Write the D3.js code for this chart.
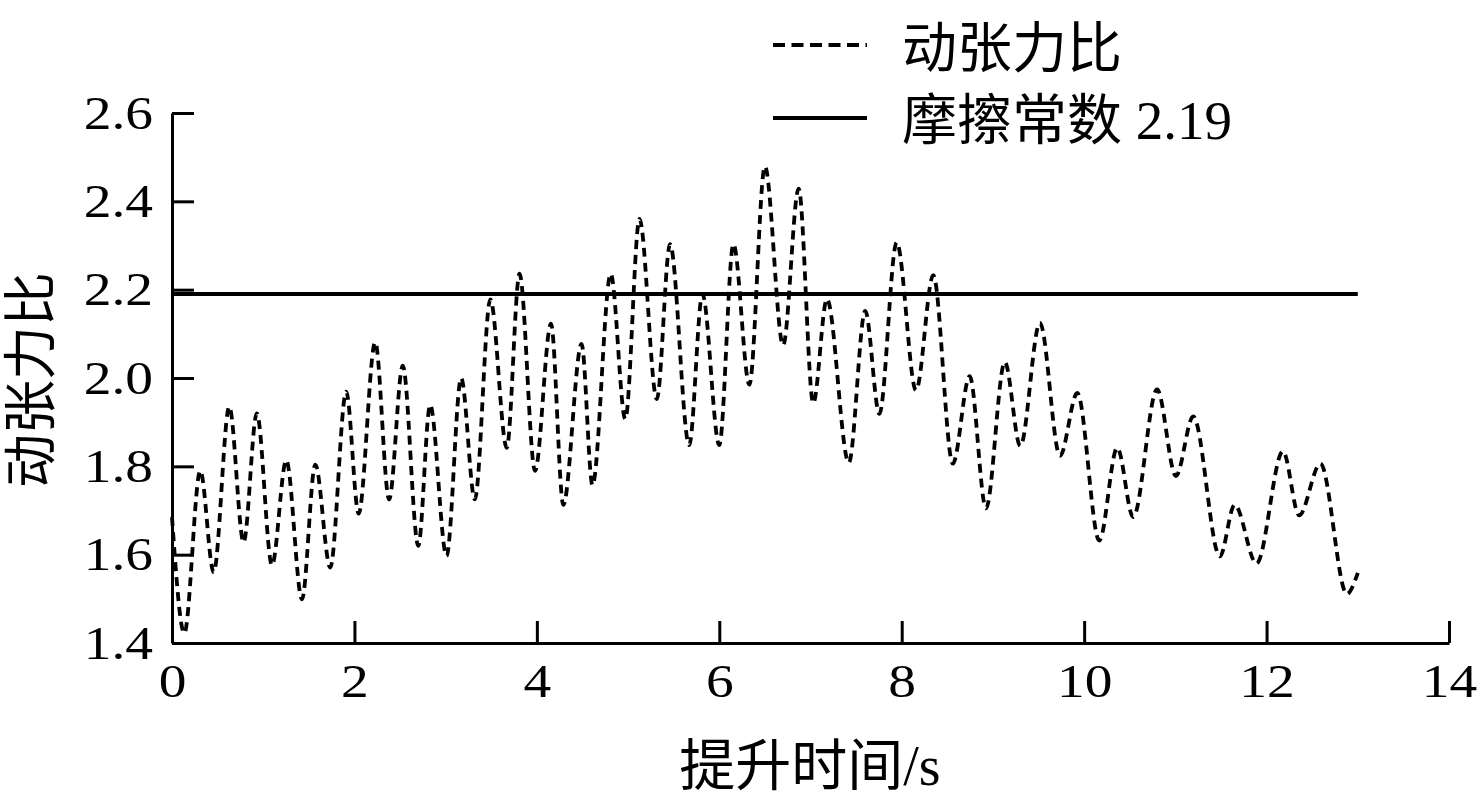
<!DOCTYPE html>
<html><head><meta charset="utf-8">
<script src="https://cdn.jsdelivr.net/npm/d3@7"></script>
<style>body{margin:0;background:#fff}</style>
</head><body><svg id="c" width="1480" height="811"></svg>
<script>
// time (s) at each turning point of the dynamic tension ratio curve
const timeS = [
  0, 0.135, 0.31, 0.457, 0.628, 0.785, 0.93, 1.096, 1.253, 1.425,
  1.571, 1.735, 1.91, 2.046, 2.228, 2.38, 2.53, 2.70, 2.83, 3.01,
  3.17, 3.32, 3.49, 3.67, 3.81, 3.98, 4.155, 4.29, 4.49, 4.61,
  4.81, 4.97, 5.125, 5.315, 5.46, 5.67, 5.815, 6.0, 6.155, 6.33,
  6.50, 6.70, 6.87, 7.03, 7.18, 7.42, 7.60, 7.755, 7.945, 8.157,
  8.346, 8.56, 8.745, 8.924, 9.13, 9.30, 9.515, 9.735, 9.925, 10.166,
  10.363, 10.538, 10.80, 11.006, 11.196, 11.488, 11.65, 11.89, 12.18, 12.357,
  12.59, 12.88, 13.0
];
const tensionRatio = [
  1.685, 1.422, 1.79, 1.56, 1.935, 1.628, 1.92, 1.576, 1.814, 1.499,
  1.804, 1.571, 1.969, 1.693, 2.081, 1.725, 2.028, 1.62, 1.939, 1.597,
  2.0, 1.725, 2.178, 1.842, 2.236, 1.79, 2.123, 1.713, 2.077, 1.757,
  2.236, 1.907, 2.36, 1.952, 2.303, 1.848, 2.19, 1.848, 2.303, 1.985,
  2.479, 2.074, 2.429, 1.943, 2.179, 1.808, 2.152, 1.919, 2.307, 1.972,
  2.233, 1.806, 2.004, 1.705, 2.036, 1.846, 2.125, 1.824, 1.966, 1.632,
  1.842, 1.685, 1.974, 1.778, 1.913, 1.596, 1.713, 1.58, 1.834, 1.689,
  1.806, 1.511, 1.559
];
const frictionConst = 2.19;
const frictionSpan = [0, 13];
const xTicks = [0, 2, 4, 6, 8, 10, 12, 14];
const yTicks = [1.4, 1.6, 1.8, 2.0, 2.2, 2.4, 2.6];
const xDomain = [0, 14];
const yDomain = [1.4, 2.6];
const xTitleCJK = "提升时间";
const xTitleUnit = "/s";
const yTitle = "动张力比";
const legendSeries = "动张力比";
const legendConst = "摩擦常数";
const legendConstValue = " 2.19";

const CJK = "'Noto Sans CJK SC', sans-serif";
const SERIF = "'Liberation Serif', 'Times New Roman', serif";
const STRETCH = 1.18;

const svg = d3.select("#c");
const x = d3.scaleLinear().domain(xDomain).range([172, 1449]);
const y = d3.scaleLinear().domain(yDomain).range([643, 113]);

function styleAxis(g) {
  g.select(".domain").attr("stroke", "#000").attr("stroke-width", 3);
  g.selectAll(".tick line").attr("stroke", "#000").attr("stroke-width", 3);
  g.selectAll(".tick text").attr("fill", "#000")
    .style("font-family", SERIF).style("font-size", "47px");
}
function stretchText(sel) {
  sel.each(function () {
    const len = this.getComputedTextLength();
    d3.select(this).attr("textLength", len * STRETCH).attr("lengthAdjust", "spacingAndGlyphs");
  });
}

const gx = svg.append("g").attr("transform", `translate(0,${y(yDomain[0])})`)
  .call(d3.axisBottom(x).tickValues(xTicks).tickFormat(d3.format("d"))
    .tickSize(-22).tickSizeOuter(0).tickPadding(21));
styleAxis(gx);
gx.attr("font-family", null).attr("font-size", null);
stretchText(gx.selectAll(".tick text"));

const gy = svg.append("g").attr("transform", `translate(${x(xDomain[0])},0)`)
  .call(d3.axisLeft(y).tickValues(yTicks).tickFormat(d3.format(".1f"))
    .tickSize(-22).tickSizeOuter(0).tickPadding(19));
styleAxis(gy);
gy.attr("font-family", null).attr("font-size", null);
stretchText(gy.selectAll(".tick text"));

// friction constant line
svg.append("line")
  .attr("x1", x(frictionSpan[0])).attr("x2", x(frictionSpan[1]))
  .attr("y1", y(frictionConst)).attr("y2", y(frictionConst))
  .attr("stroke", "#000").attr("stroke-width", 4);

// dynamic tension ratio curve
const data = timeS.map((t, i) => [t, tensionRatio[i]]);
svg.append("path").datum(data)
  .attr("d", d3.line().x(d => x(d[0])).y(d => y(d[1])).curve(d3.curveMonotoneX))
  .attr("fill", "none").attr("stroke", "#000").attr("stroke-width", 3.8)
  .attr("stroke-dasharray", "9,6");

// axis titles
const xt = svg.append("text").attr("x", 810).attr("y", 785)
  .attr("text-anchor", "middle").style("font-size", "56px").attr("fill", "#000");
xt.append("tspan").style("font-family", CJK).text(xTitleCJK);
xt.append("tspan").style("font-family", SERIF).text(xTitleUnit);

svg.append("text").attr("transform", "translate(50,380) rotate(-90)")
  .attr("text-anchor", "middle").style("font-family", CJK).style("font-size", "54px")
  .attr("fill", "#000").text(yTitle);

// legend
svg.append("line").attr("x1", 773).attr("x2", 867).attr("y1", 45).attr("y2", 45)
  .attr("stroke", "#000").attr("stroke-width", 3.8).attr("stroke-dasharray", "12,6.5");
svg.append("line").attr("x1", 773).attr("x2", 867).attr("y1", 118).attr("y2", 118)
  .attr("stroke", "#000").attr("stroke-width", 4);
svg.append("text").attr("x", 902).attr("y", 67).style("font-family", CJK)
  .style("font-size", "55px").attr("fill", "#000").text(legendSeries);
const lt = svg.append("text").attr("x", 902).attr("y", 139)
  .style("font-size", "55px").attr("fill", "#000");
lt.append("tspan").style("font-family", CJK).text(legendConst);
lt.append("tspan").style("font-family", SERIF).text(legendConstValue);
</script></body></html>
